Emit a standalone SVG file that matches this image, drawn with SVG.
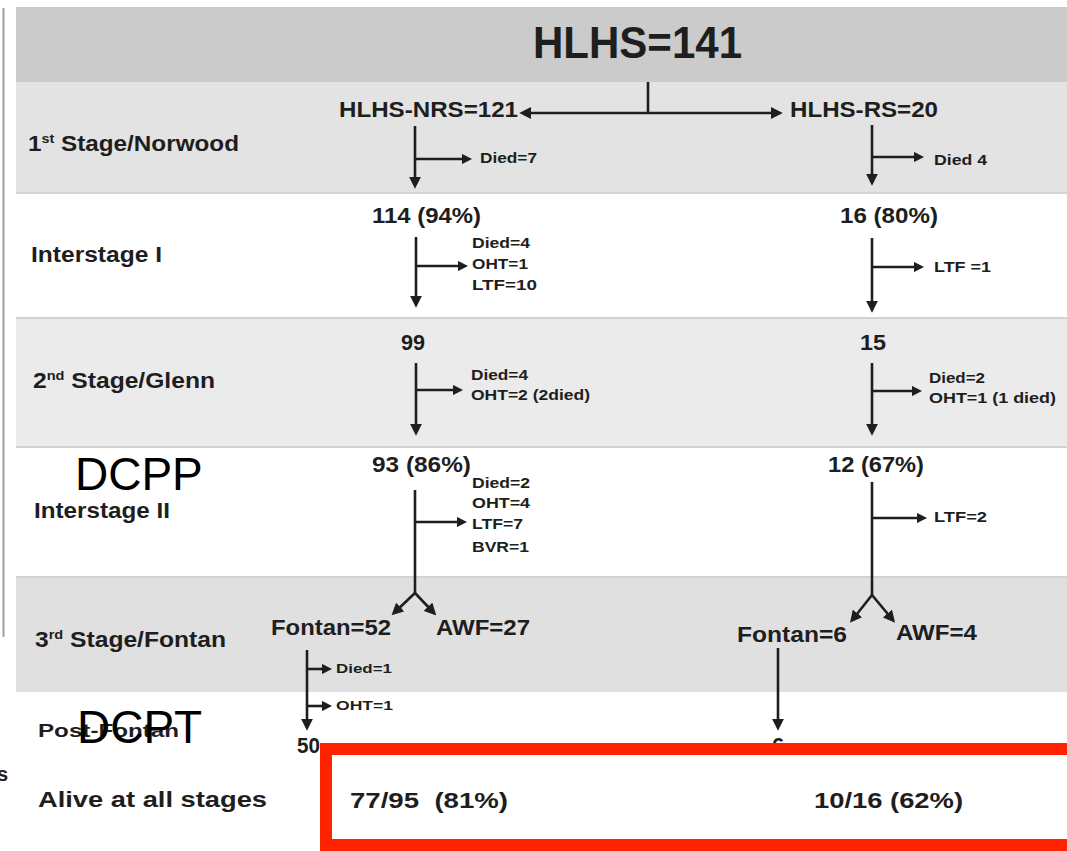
<svg xmlns="http://www.w3.org/2000/svg" width="1067" height="851" viewBox="0 0 1067 851">
<style>
.b{font-family:"Liberation Sans",Arial,sans-serif;font-weight:bold;fill:#1e1e1e}
.lg{font-size:22px}
.sm{font-size:15px}
.xs{font-size:13px}
.ov{font-family:"Liberation Sans",Arial,sans-serif;font-weight:normal;fill:#000;font-size:46px}
.c{fill:none;stroke:#1e1e1e;stroke-width:2.6}
.sep{stroke:#d2d2d2;stroke-width:2}
</style>
<defs>
<marker id="ah" viewBox="0 0 10 10" refX="6" refY="5" markerWidth="12" markerHeight="12" markerUnits="userSpaceOnUse" orient="auto-start-reverse"><path d="M0,0 L10,5 L0,10 z" fill="#1e1e1e"/></marker>
<marker id="ahs" viewBox="0 0 10 10" refX="6" refY="5" markerWidth="10.5" markerHeight="10.5" markerUnits="userSpaceOnUse" orient="auto-start-reverse"><path d="M0,0 L10,5 L0,10 z" fill="#1e1e1e"/></marker>
</defs>
<rect x="0" y="0" width="1067" height="851" fill="#fff"/>
<g id="bands">
<rect x="16" y="7" width="1051" height="75" fill="#cbcbcb"/>
<rect x="16" y="82" width="1051" height="111" fill="#e3e3e3"/>
<rect x="16" y="193" width="1051" height="125" fill="#ffffff"/>
<rect x="16" y="318" width="1051" height="129" fill="#ebebeb"/>
<rect x="16" y="447" width="1051" height="130" fill="#ffffff"/>
<rect x="16" y="577" width="1051" height="115" fill="#e0e0e0"/>
<line class="sep" x1="16" y1="193" x2="1067" y2="193"/>
<line class="sep" x1="16" y1="318" x2="1067" y2="318"/>
<line class="sep" x1="16" y1="447" x2="1067" y2="447"/>
<line class="sep" x1="16" y1="577" x2="1067" y2="577"/>
<line x1="3.5" y1="8" x2="3.5" y2="637" stroke="#a0a0a0" stroke-width="2"/>
</g>
<g id="stage-labels">
<text class="b lg" x="28" y="151" textLength="211" lengthAdjust="spacingAndGlyphs">1<tspan font-size="13" dy="-8">st</tspan><tspan dy="8"> Stage/Norwood</tspan></text>
<text class="b lg" x="31" y="262" textLength="131" lengthAdjust="spacingAndGlyphs">Interstage I</text>
<text class="b lg" x="33" y="388" textLength="182" lengthAdjust="spacingAndGlyphs">2<tspan font-size="13" dy="-8">nd</tspan><tspan dy="8"> Stage/Glenn</tspan></text>
<text class="b lg" x="34" y="518" textLength="136" lengthAdjust="spacingAndGlyphs">Interstage II</text>
<text class="b lg" x="35" y="647" textLength="191" lengthAdjust="spacingAndGlyphs">3<tspan font-size="13" dy="-8">rd</tspan><tspan dy="8"> Stage/Fontan</tspan></text>
<text class="b" font-size="19" x="38" y="737" textLength="141" lengthAdjust="spacingAndGlyphs">Post-Fontan</text>
<text class="b lg" x="38" y="807" textLength="229" lengthAdjust="spacingAndGlyphs">Alive at all stages</text>
<text class="b" font-size="20" x="-3" y="781">s</text>
</g>
<g id="n-total"><text class="b" font-size="44" x="533" y="58" textLength="209" lengthAdjust="spacingAndGlyphs">HLHS=141</text></g>
<g id="n-nrs"><text class="b lg" x="339" y="117" textLength="179" lengthAdjust="spacingAndGlyphs">HLHS-NRS=121</text></g>
<g id="n-rs"><text class="b lg" x="790" y="117" textLength="148" lengthAdjust="spacingAndGlyphs">HLHS-RS=20</text></g>
<g id="n-nrs-s1-out"><text class="b sm" x="480" y="163" textLength="57" lengthAdjust="spacingAndGlyphs">Died=7</text></g>
<g id="n-rs-s1-out"><text class="b sm" x="934" y="165" textLength="53" lengthAdjust="spacingAndGlyphs">Died 4</text></g>
<g id="n-nrs-114"><text class="b lg" x="372" y="223" textLength="109" lengthAdjust="spacingAndGlyphs">114 (94%)</text></g>
<g id="n-rs-16"><text class="b lg" x="840" y="223" textLength="98" lengthAdjust="spacingAndGlyphs">16 (80%)</text></g>
<g id="n-nrs-is1-out">
<text class="b sm" x="472" y="248" textLength="58" lengthAdjust="spacingAndGlyphs">Died=4</text>
<text class="b sm" x="472" y="269" textLength="56" lengthAdjust="spacingAndGlyphs">OHT=1</text>
<text class="b sm" x="472" y="290" textLength="65" lengthAdjust="spacingAndGlyphs">LTF=10</text>
</g>
<g id="n-rs-is1-out"><text class="b sm" x="934" y="272" textLength="57" lengthAdjust="spacingAndGlyphs">LTF =1</text></g>
<g id="n-nrs-99"><text class="b lg" x="401" y="350" textLength="24" lengthAdjust="spacingAndGlyphs">99</text></g>
<g id="n-rs-15"><text class="b lg" x="860" y="350" textLength="26" lengthAdjust="spacingAndGlyphs">15</text></g>
<g id="n-nrs-s2-out">
<text class="b sm" x="471" y="380" textLength="57" lengthAdjust="spacingAndGlyphs">Died=4</text>
<text class="b sm" x="471" y="400" textLength="119" lengthAdjust="spacingAndGlyphs">OHT=2 (2died)</text>
</g>
<g id="n-rs-s2-out">
<text class="b sm" x="929" y="383" textLength="56" lengthAdjust="spacingAndGlyphs">Died=2</text>
<text class="b sm" x="929" y="403" textLength="127" lengthAdjust="spacingAndGlyphs">OHT=1 (1 died)</text>
</g>
<g id="n-nrs-93"><text class="b lg" x="372" y="472" textLength="99" lengthAdjust="spacingAndGlyphs">93 (86%)</text></g>
<g id="n-rs-12"><text class="b lg" x="828" y="472" textLength="96" lengthAdjust="spacingAndGlyphs">12 (67%)</text></g>
<g id="n-nrs-is2-out">
<text class="b sm" x="472" y="488" textLength="58" lengthAdjust="spacingAndGlyphs">Died=2</text>
<text class="b sm" x="472" y="508" textLength="58" lengthAdjust="spacingAndGlyphs">OHT=4</text>
<text class="b sm" x="472" y="529" textLength="51" lengthAdjust="spacingAndGlyphs">LTF=7</text>
<text class="b sm" x="472" y="552" textLength="57" lengthAdjust="spacingAndGlyphs">BVR=1</text>
</g>
<g id="n-rs-is2-out"><text class="b sm" x="934" y="522" textLength="53" lengthAdjust="spacingAndGlyphs">LTF=2</text></g>
<g id="n-nrs-fontan"><text class="b lg" x="271" y="635" textLength="120" lengthAdjust="spacingAndGlyphs">Fontan=52</text></g>
<g id="n-nrs-awf"><text class="b lg" x="436" y="635" textLength="94" lengthAdjust="spacingAndGlyphs">AWF=27</text></g>
<g id="n-rs-fontan"><text class="b lg" x="737" y="642" textLength="110" lengthAdjust="spacingAndGlyphs">Fontan=6</text></g>
<g id="n-rs-awf"><text class="b lg" x="896" y="640" textLength="81" lengthAdjust="spacingAndGlyphs">AWF=4</text></g>
<g id="n-nrs-pf-out">
<text class="b xs" x="336" y="673" textLength="56" lengthAdjust="spacingAndGlyphs">Died=1</text>
<text class="b xs" x="336" y="710" textLength="57" lengthAdjust="spacingAndGlyphs">OHT=1</text>
</g>
<g id="n-nrs-50"><text class="b lg" x="297" y="753" textLength="23" lengthAdjust="spacingAndGlyphs">50</text></g>
<g id="n-rs-6"><text class="b lg" x="772" y="753">6</text></g>
<g id="n-alive-nrs"><text class="b lg" x="350" y="808" textLength="158" lengthAdjust="spacingAndGlyphs" xml:space="preserve">77/95  (81%)</text></g>
<g id="n-alive-rs"><text class="b lg" x="814" y="808" textLength="149" lengthAdjust="spacingAndGlyphs">10/16 (62%)</text></g>
<g id="connectors">
<path class="c" d="M648,82 V113"/>
<path class="c" d="M524,113 H778" marker-start="url(#ah)" marker-end="url(#ah)"/>
<path class="c" d="M415,126 V184" marker-end="url(#ah)"/>
<path class="c" d="M415,159 H468" marker-end="url(#ahs)"/>
<path class="c" d="M872,125 V181" marker-end="url(#ah)"/>
<path class="c" d="M872,157 H920" marker-end="url(#ahs)"/>
<path class="c" d="M416,237 V303" marker-end="url(#ah)"/>
<path class="c" d="M416,266 H464" marker-end="url(#ahs)"/>
<path class="c" d="M872,238 V308" marker-end="url(#ah)"/>
<path class="c" d="M872,267 H920" marker-end="url(#ahs)"/>
<path class="c" d="M416,363 V431" marker-end="url(#ah)"/>
<path class="c" d="M416,390 H459" marker-end="url(#ahs)"/>
<path class="c" d="M872,363 V431" marker-end="url(#ah)"/>
<path class="c" d="M872,391 H918" marker-end="url(#ahs)"/>
<path class="c" d="M415,490 V593"/>
<path class="c" d="M415,522 H463" marker-end="url(#ahs)"/>
<path class="c" d="M415,593 L395,612" marker-end="url(#ah)"/>
<path class="c" d="M415,593 L433,612" marker-end="url(#ah)"/>
<path class="c" d="M872,482 V595"/>
<path class="c" d="M872,518 H923" marker-end="url(#ahs)"/>
<path class="c" d="M872,595 L853,619" marker-end="url(#ah)"/>
<path class="c" d="M872,595 L892,619" marker-end="url(#ah)"/>
<path class="c" d="M307,650 V726" marker-end="url(#ah)"/>
<path class="c" d="M307,669 H328" marker-end="url(#ahs)"/>
<path class="c" d="M307,706 H328" marker-end="url(#ahs)"/>
<path class="c" d="M778,648 V726" marker-end="url(#ah)"/>
</g>
<g id="overlay">
<text class="ov" x="75" y="490">DCPP</text>
<text class="ov" x="77" y="743" font-size="45">DCPT</text>
<rect x="326" y="749" width="760" height="96" fill="none" stroke="#ff2400" stroke-width="12"/>
</g>
</svg>
